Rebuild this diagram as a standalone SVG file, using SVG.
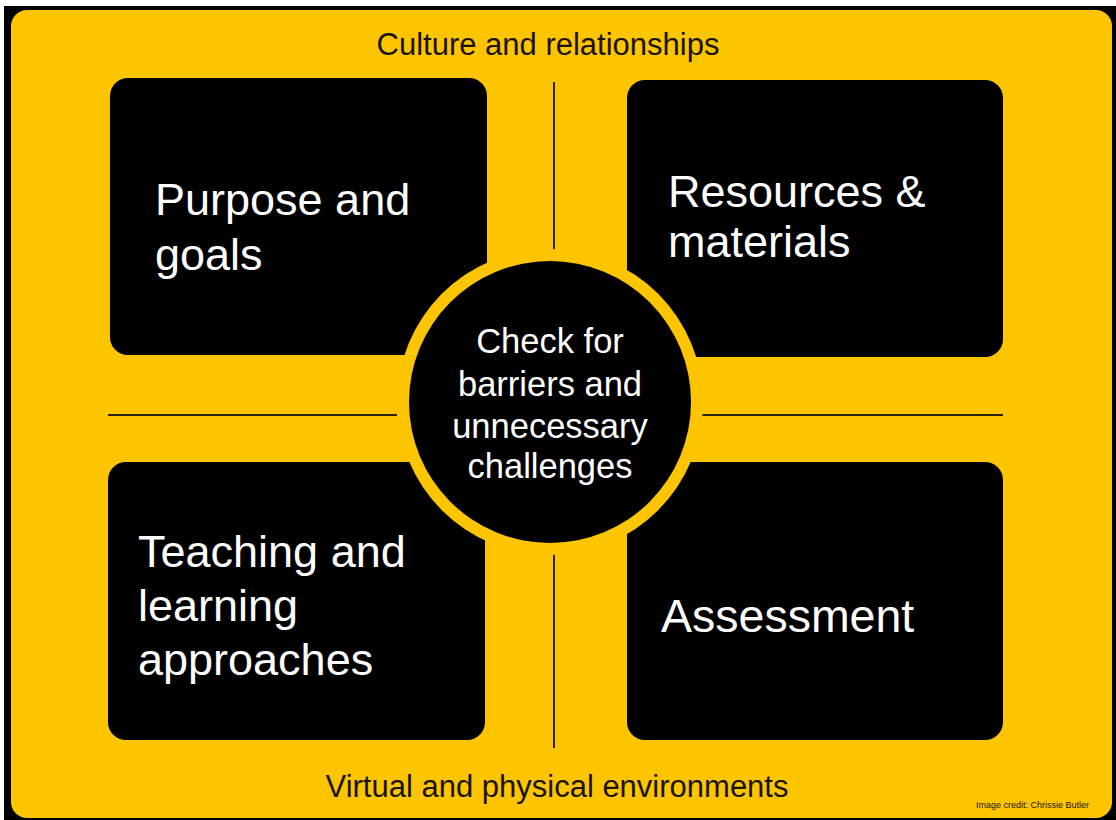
<svg xmlns="http://www.w3.org/2000/svg" width="1116" height="820" viewBox="0 0 1116 820">
<style>
.box{fill:#000;}
.wt{fill:#fff;font-family:"Liberation Sans",Arial,sans-serif;}
.bt{fill:#1a1300;font-family:"Liberation Sans",Arial,sans-serif;}
.ln{stroke:#2b2200;stroke-width:2;fill:none;}
</style>
<rect x="0" y="0" width="1116" height="820" fill="#fff"/>
<rect x="4" y="6" width="1112" height="814" fill="#000"/>
<rect x="11" y="10" width="1101" height="808" rx="16" fill="#FDC500"/>
<g id="connectors">
<line class="ln" x1="554" y1="82" x2="554" y2="255"/>
<line class="ln" x1="554" y1="550" x2="554" y2="748"/>
<line class="ln" x1="108" y1="415" x2="397" y2="415"/>
<line class="ln" x1="702" y1="415" x2="1003" y2="415"/>
</g>
<g id="purpose">
<rect class="box" x="110" y="78" width="377" height="277" rx="18"/>
<text class="wt" font-size="45" x="155" y="215">Purpose and</text>
<text class="wt" font-size="45" x="155" y="270">goals</text>
</g>
<g id="resources">
<rect class="box" x="627" y="80" width="376" height="277" rx="18"/>
<text class="wt" font-size="45" x="668" y="207">Resources &amp;</text>
<text class="wt" font-size="45" x="668" y="257">materials</text>
</g>
<g id="teaching">
<rect class="box" x="108" y="462" width="377" height="278" rx="18"/>
<text class="wt" font-size="45" x="138" y="567">Teaching and</text>
<text class="wt" font-size="45" x="138" y="621">learning</text>
<text class="wt" font-size="45" x="138" y="675">approaches</text>
</g>
<g id="assessment">
<rect class="box" x="627" y="462" width="376" height="278" rx="18"/>
<text class="wt" font-size="46.5" x="661" y="632">Assessment</text>
</g>
<g id="center">
<circle cx="550" cy="402" r="153" fill="#FDC500"/>
<circle cx="550" cy="402" r="141" fill="#000"/>
<text class="wt" font-size="34.5" text-anchor="middle" x="550" y="353">Check for</text>
<text class="wt" font-size="34.5" text-anchor="middle" x="550" y="396">barriers and</text>
<text class="wt" font-size="34.5" text-anchor="middle" x="550" y="438">unnecessary</text>
<text class="wt" font-size="34.5" text-anchor="middle" x="550" y="478">challenges</text>
</g>
<g id="labels">
<text class="bt" font-size="31" text-anchor="middle" x="548" y="55">Culture and relationships</text>
<text class="bt" font-size="31" text-anchor="middle" x="557" y="797">Virtual and physical environments</text>
<text class="bt" font-size="9" x="976" y="808" fill="#4a3500">Image credit: Chrissie Butler</text>
</g>
</svg>
